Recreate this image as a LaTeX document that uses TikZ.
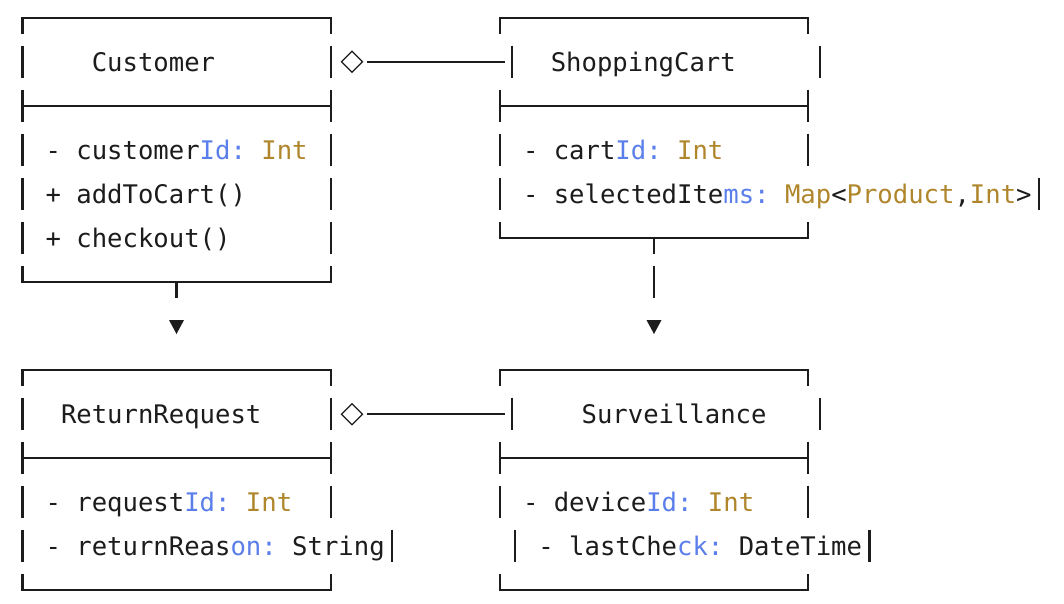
\documentclass[tikz,border=0pt]{standalone}
\usepackage{fontspec}
\usetikzlibrary{calc}
\newfontfamily\codefont{DejaVu Sans Mono}
\definecolor{kwblue}{HTML}{5B7FEA}
\definecolor{tygold}{HTML}{B0862C}
\definecolor{ink}{HTML}{1C1C1C}
\newcommand{\kb}[1]{{\color{kwblue}#1}}
\newcommand{\tg}[1]{{\color{tygold}#1}}
\frenchspacing
\begin{document}
\begin{tikzpicture}[x=1pt,y=-1pt,
  txt/.style={anchor=base west,inner sep=0pt,outer sep=0pt,text=ink,
    font=\codefont\fontsize{25.6}{30}\selectfont\frenchspacing},
  bline/.style={draw=ink,line width=2.3pt},
  thin/.style={draw=ink,line width=1.3pt,line join=miter},
  tip/.style={fill=ink}]
\useasboundingbox[fill=white] (0,0) rectangle (1064,603);

% ---------- box outlines (ASCII-like segmented borders) ----------
% Customer box: rows 17.5 .. 281.5
\draw[bline] (22.5,33.5) -- (22.5,18) -- (331,18) -- (331,33.5);
\draw[bline] (22.5,45.5) -- (22.5,77.5) (331,45.5) -- (331,77.5);
\draw[bline] (22.5,89.5) -- (22.5,121.5) (331,89.5) -- (331,121.5) (22.5,106) -- (331,106);
\foreach \c in {149.5,193.5,237.5}{\draw[bline] (22.5,\c-16) -- (22.5,\c+16) (331,\c-16) -- (331,\c+16);}
\draw[bline] (22.5,265.5) -- (22.5,282) -- (331,282) -- (331,265.5);

% ShoppingCart box: rows 17.5 .. 237.5
\draw[bline] (500,33.5) -- (500,18) -- (808,18) -- (808,33.5);
\draw[bline] (512.3,45.5) -- (512.3,77.5) (820,45.5) -- (820,77.5);
\draw[bline] (500,89.5) -- (500,121.5) (808,89.5) -- (808,121.5) (500,106) -- (808,106);
\draw[bline] (500,133.5) -- (500,165.5) (808,133.5) -- (808,165.5);
\draw[bline] (500,177.5) -- (500,209.5) (1039,177.5) -- (1039,209.5);
\draw[bline] (500,221.5) -- (500,238) -- (808,238) -- (808,221.5);

% ReturnRequest box: rows 369.5 .. 589.5
\draw[bline] (22.5,385.5) -- (22.5,370) -- (331,370) -- (331,385.5);
\draw[bline] (22.5,397.5) -- (22.5,429.5) (331,397.5) -- (331,429.5);
\draw[bline] (22.5,441.5) -- (22.5,473.5) (331,441.5) -- (331,473.5) (22.5,458) -- (331,458);
\draw[bline] (22.5,485.5) -- (22.5,517.5) (331,485.5) -- (331,517.5);
\draw[bline] (22.5,529.5) -- (22.5,561.5) (392,529.5) -- (392,561.5);
\draw[bline] (22.5,573.5) -- (22.5,590) -- (331,590) -- (331,573.5);

% Surveillance box: rows 369.5 .. 589.5
\draw[bline] (500,385.5) -- (500,370) -- (808,370) -- (808,385.5);
\draw[bline] (512.3,397.5) -- (512.3,429.5) (820,397.5) -- (820,429.5);
\draw[bline] (500,441.5) -- (500,473.5) (808,441.5) -- (808,473.5) (500,458) -- (808,458);
\draw[bline] (500,485.5) -- (500,517.5) (808,485.5) -- (808,517.5);
\draw[bline] (515.3,529.5) -- (515.3,561.5) (869.5,529.5) -- (869.5,561.5);
\draw[bline] (500,573.5) -- (500,590) -- (808,590) -- (808,573.5);

% ---------- texts ----------
\node[txt] (customerTitle) at (91.8,71.7) {Customer};
\node[txt] (cartTitle) at (550.8,71.7) {ShoppingCart};
\node[txt] (customerId) at (45.6,159.7) {- customer\kb{Id:} \tg{Int}};
\node[txt] (addToCart) at (45.6,203.7) {+ addToCart()};
\node[txt] (checkout) at (45.6,247.7) {+ checkout()};
\node[txt] (cartId) at (523,159.7) {- cart\kb{Id:} \tg{Int}};
\node[txt] (selectedItems) at (523,203.7) {- selectedIte\kb{ms:} \tg{Map}<\tg{Product},\tg{Int}>};

\node[txt] (returnTitle) at (61,423.7) {ReturnRequest};
\node[txt] (survTitle) at (581.6,423.7) {Surveillance};
\node[txt] (requestId) at (45.6,511.7) {- request\kb{Id:} \tg{Int}};
\node[txt] (returnReason) at (45.6,555.7) {- returnReas\kb{on:} String};
\node[txt] (deviceId) at (523,511.7) {- device\kb{Id:} \tg{Int}};
\node[txt] (lastCheck) at (538.4,555.7) {- lastChe\kb{ck:} DateTime};

% ---------- aggregation connectors (diamond + line) ----------
\coordinate (aggA) at (352,61.7);
\coordinate (aggAend) at (505,61.7);
\draw[thin] ($(aggA)+(-10.5,0)$) -- ++(10.5,-10.5) -- ++(10.5,10.5) -- ++(-10.5,10.5) -- cycle;
\draw[bline] ($(aggA)+(14.7,0)$) -- (aggAend);

\coordinate (aggB) at (352,414.2);
\coordinate (aggBend) at (505,414.2);
\draw[thin] ($(aggB)+(-10.5,0)$) -- ++(10.5,-10.5) -- ++(10.5,10.5) -- ++(-10.5,10.5) -- cycle;
\draw[bline] ($(aggB)+(14.7,0)$) -- (aggBend);

% ---------- downward connectors ----------
\coordinate (custTick) at (176.5,282);
\coordinate (custTip) at (176.5,320);
\draw[bline] (custTick) -- ++(0,15.5);
\fill[tip] ($(custTip)+(-7.5,0)$) -- ++(15,0) -- ++(-7.5,14) -- cycle;

\coordinate (cartTick) at (654,238);
\coordinate (cartTip) at (654,320);
\draw[bline] (cartTick) -- ++(0,15.5);
\draw[bline] (654,265.5) -- (654,297.5);
\fill[tip] ($(cartTip)+(-7.5,0)$) -- ++(15,0) -- ++(-7.5,14) -- cycle;
\end{tikzpicture}
\end{document}
